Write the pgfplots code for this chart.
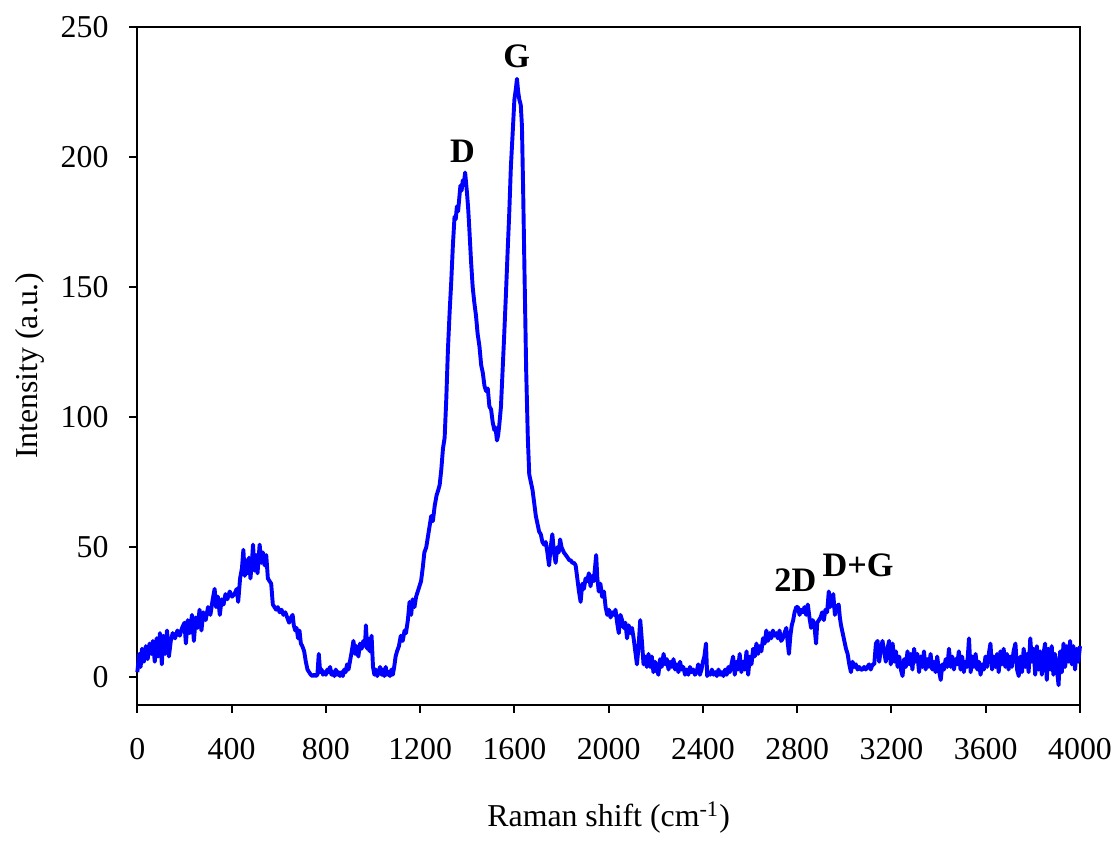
\documentclass[border=0pt]{standalone}
\usepackage{fontspec}
\setmainfont{Liberation Serif}
\usepackage{pgfplots}
\pgfplotsset{compat=1.18}
\begin{document}
\begin{tikzpicture}
\begin{axis}[
  scale only axis,
  width=13.53cm, height=9.73cm,
  xmin=0, xmax=4000, ymin=-10.5, ymax=250,
  xtick={0,400,...,4000}, ytick={0,50,...,250},
  xtick pos=bottom, ytick pos=left,
  tick align=outside, major tick length=0.114cm,
  axis line style={line width=0.8pt},
  every tick/.style={black, line width=0.8pt},
  /pgf/number format/assume math mode=true,
  /pgf/number format/set thousands separator={},
  tick label style={font=\fontsize{13}{15}\selectfont},
  xticklabel style={yshift=-7pt},
  yticklabel style={xshift=-5pt},
  label style={font=\fontsize{13}{15}\selectfont},
  xlabel={Raman shift (cm\textsuperscript{-1})},
  ylabel={Intensity (a.u.)},
  xlabel style={at={(axis description cs:0.5,-0.18)}, anchor=base},
  ylabel style={at={(axis description cs:-0.114,0.5)}, anchor=center},
  clip=false,
]
\addplot[color={rgb,255:red,0;green,0;blue,255}, line width=1.6pt, line join=round] coordinates {
(0,2) (8,9) (14,4) (20,11) (28,6) (36,12) (44,7) (52,13) (60,9) (66,14) (74,6) (82,15) (88,8) (96,17) (104,5) (110,16) (118,9) (126,18) (134,8) (142,14) (150,17) (160,15) (170,18) (180,16) (190,19) (200,21) (206,13) (214,22) (222,17) (232,24) (240,14) (248,23) (256,19) (264,26) (272,18) (280,25) (290,22) (300,27) (310,24) (320,30) (328,34) (334,27) (342,31) (350,24) (358,30) (366,28) (374,32) (382,30) (392,33) (402,31) (412,32) (422,34) (428,29) (436,38) (444,42) (450,49) (456,39) (462,45) (468,40) (474,46) (480,38) (486,44) (491,51) (497,41) (504,47) (510,40) (519,51) (526,44) (533,48) (540,43) (547,47) (554,38) (561,37) (568,36) (575,28) (582,27) (589,26) (596,27) (604,25) (612,26) (620,24) (628,25) (636,23) (644,21) (652,23) (659,24) (664,20) (670,18) (676,19) (682,15) (688,18) (694,13) (700,12) (708,10) (715,6) (722,3) (729,2) (736,1) (743,0.5) (750,1) (757,0.5) (764,1) (770,9) (776,2) (782,3) (788,1) (794,2) (800,1) (806,3) (812,2) (818,4) (824,1) (830,2) (836,0.5) (842,3) (848,1) (854,2) (860,0.5) (866,2) (872,0.5) (878,3) (884,2) (890,5) (896,3) (902,6) (910,10) (917,14) (924,9) (930,12) (938,8) (945,13) (952,11) (959,14) (966,12) (970,20) (975,11) (980,15) (986,10) (994,16) (1000,4) (1006,1) (1012,3) (1018,0.5) (1024,2) (1030,4) (1036,1) (1042,3) (1048,0.5) (1054,4) (1060,1) (1066,2) (1072,0.5) (1078,3) (1084,1) (1090,4) (1096,8) (1102,10) (1110,12) (1118,16) (1126,14) (1134,18) (1140,17) (1148,22) (1155,29) (1162,24) (1168,30) (1176,27) (1183,31) (1190,33) (1197,35) (1204,37) (1211,42) (1218,48) (1226,50) (1233,54) (1240,58) (1247,62) (1254,60) (1262,66) (1270,70) (1277,72) (1283,74) (1290,80) (1297,88) (1304,92) (1311,107) (1318,126) (1325,140) (1332,152) (1339,166) (1346,177) (1351,176) (1356,181) (1361,179) (1367,185) (1371,189) (1376,187) (1381,191) (1386,190) (1391,194) (1395,190) (1399,186) (1404,180) (1409,172) (1416,160) (1423,150) (1430,144) (1437,139) (1444,132) (1452,127) (1459,120) (1466,117) (1473,112) (1480,110) (1487,111) (1494,104) (1501,103) (1508,98) (1515,95) (1520,96) (1526,91) (1531,93) (1536,97) (1543,104) (1550,118) (1557,132) (1564,147) (1571,163) (1578,178) (1585,196) (1592,208) (1600,222) (1606,226) (1611,230) (1616,225) (1621,222) (1627,220) (1632,212) (1637,188) (1643,155) (1650,118) (1657,92) (1663,78) (1670,75) (1677,72) (1684,67) (1691,62) (1698,59) (1705,56) (1712,55) (1719,52) (1726,51) (1733,52) (1740,48) (1747,43) (1754,50) (1761,55) (1768,48) (1775,44) (1782,50) (1788,48) (1794,53) (1800,50) (1810,48) (1818,47) (1826,46) (1833,45) (1839,45) (1846,44) (1853,44) (1860,43) (1867,38) (1874,33) (1881,29) (1888,36) (1895,34) (1902,38) (1909,37) (1916,40) (1923,35) (1930,39) (1937,37) (1942,42) (1947,47) (1952,38) (1958,33) (1965,36) (1972,31) (1980,33) (1987,27) (1994,24) (2001,26) (2008,23) (2015,25) (2022,24) (2029,26) (2036,21) (2043,17) (2050,24) (2057,22) (2064,19) (2071,21) (2078,15) (2085,20) (2092,17) (2099,19) (2106,15) (2113,10) (2120,5) (2127,12) (2134,22) (2141,14) (2148,5) (2155,8) (2162,4) (2169,9) (2176,4) (2183,8) (2190,2) (2197,6) (2204,3) (2211,1) (2218,7) (2225,4) (2233,9) (2240,5) (2247,7) (2254,3) (2261,6) (2268,4) (2275,7) (2282,3) (2289,5) (2296,2) (2303,6) (2310,3) (2317,4) (2324,1) (2331,3) (2338,1) (2345,4) (2352,2) (2359,3) (2366,1) (2373,2) (2380,5) (2387,1) (2394,3) (2400,6) (2406,8) (2413,13) (2418,0.5) (2424,2) (2431,1) (2438,3) (2445,1) (2452,2) (2459,0.5) (2466,3) (2473,1) (2480,2) (2487,0.5) (2494,3) (2501,1) (2508,4) (2514,2) (2521,5) (2528,8) (2535,1) (2542,6) (2549,3) (2556,9) (2563,2) (2570,6) (2577,3) (2585,10) (2592,1) (2599,8) (2606,5) (2613,11) (2620,8) (2627,13) (2634,9) (2641,12) (2648,10) (2655,15) (2662,13) (2669,18) (2676,14) (2683,17) (2690,15) (2697,18) (2704,16) (2711,17) (2718,15) (2725,18) (2732,14) (2739,15) (2746,17) (2754,19) (2759,14) (2765,9) (2771,16) (2777,20) (2783,22) (2789,25) (2796,27) (2803,27) (2810,24) (2817,26) (2824,25) (2831,27) (2838,24) (2845,28) (2852,23) (2859,19) (2866,22) (2873,20) (2880,13) (2885,21) (2892,22) (2899,23) (2906,25) (2913,22) (2920,26) (2927,25) (2934,33) (2940,27) (2946,30) (2953,32) (2960,24) (2967,27) (2976,28) (2981,23) (2986,20) (2993,17) (3000,14) (3007,11) (3014,9) (3021,5) (3028,2) (3035,6) (3042,4) (3049,5) (3056,3) (3063,4) (3070,3) (3077,3) (3084,4) (3091,3) (3098,4) (3105,5) (3112,3) (3120,5) (3127,5) (3134,13) (3141,14) (3148,6) (3155,11) (3162,14) (3169,10) (3176,6) (3183,11) (3190,14) (3197,5) (3205,13) (3212,6) (3219,10) (3226,4) (3233,8) (3240,3) (3247,0.5) (3254,7) (3261,4) (3268,10) (3275,5) (3282,9) (3289,3) (3296,11) (3303,6) (3310,9) (3317,2) (3324,8) (3331,4) (3338,10) (3345,3) (3352,7) (3359,4) (3366,9) (3373,3) (3380,6) (3387,2) (3394,8) (3401,3) (3409,-1) (3416,5) (3423,3) (3430,7) (3437,4) (3444,11) (3451,4) (3458,8) (3465,3) (3472,7) (3479,5) (3486,10) (3493,3) (3500,8) (3507,2) (3514,6) (3521,4) (3529,15) (3536,2) (3543,8) (3550,4) (3557,9) (3564,3) (3571,6) (3578,1) (3585,5) (3592,3) (3599,8) (3606,4) (3613,9) (3620,13) (3627,3) (3634,8) (3641,4) (3648,9) (3655,2) (3662,10) (3669,5) (3676,11) (3683,4) (3690,9) (3697,3) (3704,8) (3711,4) (3718,10) (3726,13) (3733,3) (3740,0.5) (3747,8) (3754,2) (3761,11) (3768,4) (3775,9) (3782,2) (3789,15) (3796,6) (3803,11) (3810,1) (3817,12) (3824,3) (3831,10) (3838,1) (3845,9) (3852,13) (3859,-1) (3866,11) (3873,3) (3880,12) (3887,1) (3894,9) (3901,4) (3909,-3) (3916,10) (3923,2) (3930,13) (3937,4) (3944,12) (3951,6) (3958,14) (3965,5) (3972,12) (3979,3) (3986,11) (3993,6) (4000,12)
};
\node[font=\fontsize{14}{16}\selectfont\bfseries] at (axis cs:1380,202) {D};
\node[font=\fontsize{14}{16}\selectfont\bfseries] at (axis cs:1610,238.6) {G};
\node[font=\fontsize{14}{16}\selectfont\bfseries] at (axis cs:2792,37.5) {2D};
\node[font=\fontsize{14}{16}\selectfont\bfseries] at (axis cs:3058,43) {D+G};
\end{axis}
\path ([xshift=-1.971cm,yshift=10.114cm]current axis.south west) rectangle ([xshift=14.029cm,yshift=-1.757cm]current axis.south west);
\end{tikzpicture}
\end{document}
